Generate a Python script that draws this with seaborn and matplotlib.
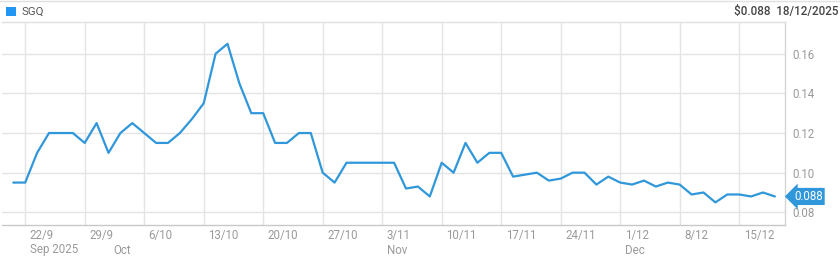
import matplotlib
matplotlib.use("Agg")
import matplotlib.pyplot as plt
import matplotlib.transforms as mtransforms
from matplotlib.patches import Rectangle
import seaborn as sns
import pandas as pd
import numpy as np

# ---- data ----
ticker = "SGQ"
last_price_label = "$0.088  18/12/2025"
start_date = "2025-09-19"
end_date = "2025-12-18"
prices = [
    0.095, 0.095, 0.110, 0.120, 0.120, 0.120, 0.115, 0.125, 0.110, 0.120,
    0.125, 0.120, 0.115, 0.115, 0.120, 0.127, 0.135, 0.160, 0.165, 0.145,
    0.130, 0.130, 0.115, 0.115, 0.120, 0.120, 0.100, 0.095, 0.105, 0.105,
    0.105, 0.105, 0.105, 0.092, 0.093, 0.088, 0.105, 0.100, 0.115, 0.105,
    0.110, 0.110, 0.098, 0.099, 0.100, 0.096, 0.097, 0.100, 0.100, 0.094,
    0.098, 0.095, 0.094, 0.096, 0.093, 0.095, 0.094, 0.089, 0.090, 0.085,
    0.089, 0.089, 0.088, 0.090, 0.088,
]
tick_dates = ["2025-09-22", "2025-09-29", "2025-10-06", "2025-10-13", "2025-10-20",
              "2025-10-27", "2025-11-03", "2025-11-10", "2025-11-17", "2025-11-24",
              "2025-12-01", "2025-12-08", "2025-12-15"]
tick_labels = ["22/9", "29/9", "6/10", "13/10", "20/10", "27/10", "3/11",
               "10/11", "17/11", "24/11", "1/12", "8/12", "15/12"]
month_dates = ["2025-09-22", "2025-10-01", "2025-11-03", "2025-12-01"]
month_labels = ["Sep 2025", "Oct", "Nov", "Dec"]
y_ticks = [0.08, 0.10, 0.12, 0.14, 0.16]
last_value_label = "0.088"

dates = pd.bdate_range(start_date, end_date)
df = pd.DataFrame({"idx": np.arange(len(prices)), "date": dates[:len(prices)], "price": prices})
date_to_idx = {d.strftime("%Y-%m-%d"): i for i, d in enumerate(df["date"])}

# ---- style ----
sns.set_theme(style="white")
plt.rcParams["font.family"] = ["Roboto", "DejaVu Sans"]

W, H = 840, 259
fig = plt.figure(figsize=(W / 100, H / 100), dpi=100)
ax_bottom_px, ax_top_px = 225, 22
ax = fig.add_axes([2 / W, (H - ax_bottom_px) / H, (785 - 2) / W, (ax_bottom_px - ax_top_px) / H])
ax_h_px = ax_bottom_px - ax_top_px

line_color = "#2f97da"
grid_color = "#e4e4e4"
label_color = "#9a9a9a"

sns.lineplot(data=df, x="idx", y="price", ax=ax, color=line_color, linewidth=1.6)

ax.set_xlim(-0.95, 64.85)
ax.set_ylim(0.0736, 0.176)

xt = [date_to_idx[d] for d in tick_dates]
ax.set_xticks(xt)
ax.set_xticklabels([])
ax.set_yticks(y_ticks)
ax.set_yticklabels([f"{v:.2f}" for v in y_ticks])
ax.yaxis.tick_right()

ax.grid(True, color=grid_color, linewidth=1.0)
ax.tick_params(axis="x", length=6, width=1.0, color=grid_color, direction="out")
ax.tick_params(axis="y", length=0, labelsize=8.3, labelcolor=label_color, pad=5)

ax.set_xlabel("")
ax.set_ylabel("")
ax.spines["left"].set_visible(False)
ax.spines["bottom"].set_color("#c8c8c8")
ax.spines["right"].set_color("#d6d6d6")
ax.spines["top"].set_color("#e0e0e0")
for s in ["bottom", "right", "top"]:
    ax.spines[s].set_linewidth(1.0)

# x labels: day row and month row, left-aligned just right of each tick
trans = mtransforms.blended_transform_factory(ax.transData, ax.transAxes) + \
    mtransforms.ScaledTranslation(4.5 / 100, 0, fig.dpi_scale_trans)
day_baseline = -(239.5 - ax_bottom_px) / ax_h_px
month_baseline = -(253.5 - ax_bottom_px) / ax_h_px
for x, t in zip(xt, tick_labels):
    ax.text(x, day_baseline, t, transform=trans, ha="left", va="baseline",
            fontsize=8.3, color=label_color)
for d, m in zip(month_dates, month_labels):
    ax.text(date_to_idx[d], month_baseline, m, transform=trans,
            ha="left", va="baseline", fontsize=8.3, color=label_color)

# last value tag
tag_trans = mtransforms.blended_transform_factory(ax.transAxes, ax.transData) + \
    mtransforms.ScaledTranslation(9 / 100, 0, fig.dpi_scale_trans)
ax.text(1.0, prices[-1], last_value_label, transform=tag_trans,
        ha="left", va="center", fontsize=8.3, color="white", clip_on=False,
        bbox=dict(boxstyle="larrow,pad=0.18", facecolor="#2f97da", edgecolor="none"))

# header
fig.add_artist(plt.Line2D([0, 1], [1 - 1 / H, 1 - 1 / H], transform=fig.transFigure,
                          color="#e0e0e0", linewidth=1.0))
fig.add_artist(Rectangle((6 / W, 1 - 16 / H), 10 / W, 9 / H, transform=fig.transFigure,
                         facecolor="#2196f3", edgecolor="none"))
fig.text(22 / W, 1 - 11.5 / H, ticker, ha="left", va="center", fontsize=8.2, color="#555555")
fig.text(838 / W, 1 - 12 / H, last_price_label, ha="right", va="center", fontsize=8.4,
         color="#444444", fontweight="medium")

fig.savefig("out.png", dpi=100)
